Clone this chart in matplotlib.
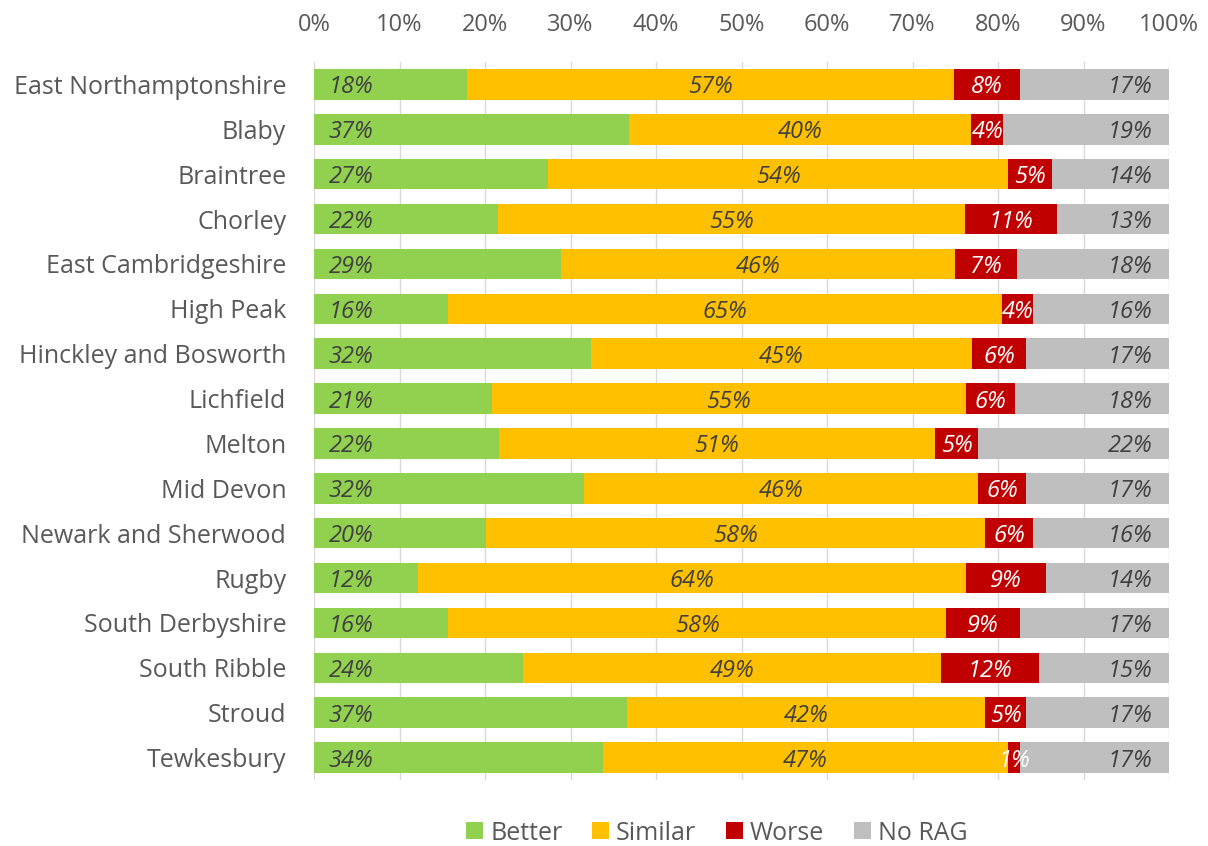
import numpy as np
import matplotlib.pyplot as plt

plt.rcParams['font.family'] = ['Open Sans', 'DejaVu Sans']

areas = ['East Northamptonshire', 'Blaby', 'Braintree', 'Chorley',
         'East Cambridgeshire', 'High Peak', 'Hinckley and Bosworth',
         'Lichfield', 'Melton', 'Mid Devon', 'Newark and Sherwood', 'Rugby',
         'South Derbyshire', 'South Ribble', 'Stroud', 'Tewkesbury']

# percentages
better = [17.9, 36.8, 27.4, 21.5, 28.9, 15.7, 32.4, 20.8, 21.6, 31.6, 20.1, 12.2, 15.7, 24.5, 36.6, 33.8]
similar = [57.0, 40.1, 53.8, 54.6, 46.1, 64.8, 44.6, 55.4, 51.0, 46.1, 58.4, 64.0, 58.2, 48.8, 41.9, 47.4]
worse = [7.7, 3.7, 5.1, 10.8, 7.2, 3.6, 6.3, 5.8, 5.1, 5.6, 5.6, 9.4, 8.7, 11.5, 4.8, 1.4]
norag = [17.4, 19.4, 13.7, 13.1, 17.8, 15.9, 16.7, 18.0, 22.3, 16.7, 15.9, 14.4, 17.4, 15.2, 16.7, 17.4]

series = [('Better', better, '#92D050'), ('Similar', similar, '#FFC000'),
          ('Worse', worse, '#C00000'), ('No RAG', norag, '#BFBFBF')]

fig = plt.figure(figsize=(12.08, 8.46), dpi=100)
ax = fig.add_axes([314/1208, 1-780/846, (1169-314)/1208, (780-62)/846])

y = np.arange(len(areas))
left = np.zeros(len(areas))
fs = 18    # category / legend text
nfs = 17   # numbers
for name, vals, col in series:
    vals = np.array(vals)
    ax.barh(y, vals, left=left, height=0.68, color=col, label=name, zorder=2)
    for i in range(len(areas)):
        txt = '%d%%' % round(vals[i])
        if name == 'Better':
            x, ha, c = left[i] + 1.7, 'left', '#404040'
        elif name == 'No RAG':
            x, ha, c = 98.1, 'right', '#404040'
        elif name == 'Worse':
            x, ha, c = left[i] + vals[i]/2, 'center', 'white'
        else:
            x, ha, c = left[i] + vals[i]/2, 'center', '#404040'
        ax.text(x, y[i], txt, ha=ha, va='center_baseline', style='italic',
                fontsize=nfs, color=c, zorder=3)
    left = left + vals

ax.set_xlim(0, 100)
ax.set_ylim(len(areas) - 0.5, -0.5)
ax.set_yticks(y)
ax.set_yticklabels(areas, fontsize=fs, color='#595959')
ax.xaxis.tick_top()
ax.set_xticks(np.arange(0, 101, 10))
ax.set_xticklabels(['%d%%' % t for t in range(0, 101, 10)], fontsize=nfs, color='#595959')
ax.tick_params(axis='x', length=0, pad=18)
ax.tick_params(axis='y', length=0, pad=20)
ax.grid(axis='x', color='#D9D9D9', linewidth=1, zorder=0)
ax.set_axisbelow(True)
for s in ax.spines.values():
    s.set_visible(False)

leg = ax.legend(loc='center', bbox_to_anchor=(717/1208, 1-833/846), bbox_transform=fig.transFigure,
                ncol=4, frameon=False, fontsize=fs, handlelength=0.65, handleheight=0.65,
                handletextpad=0.3, columnspacing=1.2)
for t in leg.get_texts():
    t.set_color('#595959')

plt.savefig('out.png')
